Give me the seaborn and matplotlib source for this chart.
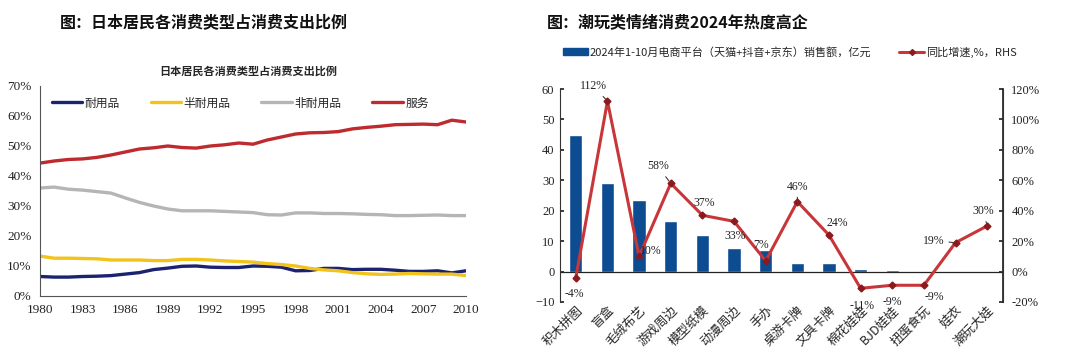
import numpy as np
import pandas as pd
import matplotlib
matplotlib.use("Agg")
import matplotlib.pyplot as plt
from matplotlib.ticker import PercentFormatter, FuncFormatter
from matplotlib.lines import Line2D
from matplotlib.patches import Patch
import seaborn as sns

# ---------------- data: left panel ----------------
years = list(range(1980, 2011))
series_names = ["耐用品", "半耐用品", "非耐用品", "服务"]
durable = [6.5, 6.3, 6.3, 6.5, 6.6, 6.8, 7.3, 7.8, 8.8, 9.3, 9.9, 10.0, 9.6, 9.5, 9.5, 10.0,
           9.9, 9.6, 8.4, 8.5, 9.2, 9.2, 8.8, 8.9, 8.9, 8.6, 8.2, 8.2, 8.4, 7.7, 8.4]
semi_durable = [13.3, 12.6, 12.6, 12.5, 12.4, 12.0, 12.0, 12.0, 11.8, 11.8, 12.2, 12.2, 12.0, 11.7,
                11.5, 11.3, 10.8, 10.5, 10.0, 9.2, 8.7, 8.4, 7.8, 7.4, 7.2, 7.3, 7.5, 7.4, 7.3, 7.3, 6.8]
non_durable = [36.0, 36.3, 35.6, 35.3, 34.8, 34.3, 32.7, 31.2, 30.0, 29.0, 28.4, 28.4, 28.4, 28.2,
               28.0, 27.8, 27.1, 27.0, 27.7, 27.7, 27.5, 27.5, 27.4, 27.2, 27.1, 26.8, 26.8, 26.9,
               27.0, 26.8, 26.8]
services = [44.3, 45.0, 45.5, 45.7, 46.2, 47.0, 48.0, 49.0, 49.4, 50.0, 49.5, 49.3, 50.0, 50.4,
            51.0, 50.6, 52.0, 53.0, 54.0, 54.4, 54.5, 54.8, 55.7, 56.2, 56.6, 57.1, 57.2, 57.3,
            57.1, 58.6, 58.0]
left_xticks = list(range(1980, 2011, 3))

# ---------------- data: right panel ----------------
categories = ["积木拼图", "盲盒", "毛绒布艺", "游戏周边", "模型纸模", "动漫周边", "手办",
              "桌游卡牌", "文具卡牌", "棉花娃娃", "BJD娃娃", "扭蛋食玩", "娃衣", "潮玩大娃"]
sales = [45.0, 29.0, 23.5, 16.5, 12.0, 7.6, 7.0, 2.7, 2.7, 1.0, 0.5, 0.2, 0.1, 0.1]
growth = [-4, 112, 10, 58, 37, 33, 7, 46, 24, -11, -9, -9, 19, 30]

# ---------------- style ----------------
sns.set_theme(style="white")
plt.rcParams['font.family'] = ['Noto Sans CJK SC', 'DejaVu Sans']
serif = ['Liberation Serif', 'DejaVu Serif']

colors = {"耐用品": "#1B2370", "半耐用品": "#F2C31B", "非耐用品": "#B5B5B5", "服务": "#BF2A2E"}
bar_color = "#0E4C92"
line_color = "#C8363A"

fig = plt.figure(figsize=(10.8, 3.6), dpi=100)

# ================= Left panel =================
axL = fig.add_axes([40/1080, 1 - 296/360, 426/1080, 210/360])
df = pd.DataFrame({"year": years * 4,
                   "value": durable + semi_durable + non_durable + services,
                   "series": sum([[n] * len(years) for n in series_names], [])})
sns.lineplot(data=df, x="year", y="value", hue="series", hue_order=series_names,
             palette=colors, linewidth=2.4, ax=axL, legend=False)
axL.set_xlim(1980, 2010)
axL.set_ylim(0, 70)
axL.set_yticks(range(0, 71, 10))
axL.yaxis.set_major_formatter(FuncFormatter(lambda v, p: f"{int(v)}%"))
axL.set_xticks(left_xticks)
axL.set_xlabel("")
axL.set_ylabel("")
for s in ["top", "right"]:
    axL.spines[s].set_visible(False)
for s in ["left", "bottom"]:
    axL.spines[s].set_color("#555555")
    axL.spines[s].set_linewidth(0.8)
axL.tick_params(axis="both", direction="in", length=3, color="#555555", labelsize=9.5,
                labelcolor="#222222", pad=6)
for lab in axL.get_xticklabels() + axL.get_yticklabels():
    lab.set_family(serif)
handlesL = [Line2D([], [], color=colors[n], lw=2.4) for n in series_names]
axL.legend(handlesL, series_names, loc="upper center", bbox_to_anchor=(0.47, 1.0), ncol=4,
           frameon=False, fontsize=8.5, handlelength=2.6, handletextpad=0.2, columnspacing=2.6)
axL.set_title("日本居民各消费类型占消费支出比例", fontsize=8, fontweight="bold", pad=8,
              x=0.49)
fig.text(60/1080, 1 - 22/360, "图：日本居民各消费类型占消费支出比例", fontsize=11.5,
         fontweight="bold", va="center", ha="left", color="#111111")

# ================= Right panel =================
axR = fig.add_axes([560/1080, 1 - 302/360, 443/1080, 213/360])
dfR = pd.DataFrame({"cat": categories, "sales": sales, "growth": growth})
sns.barplot(data=dfR, x="cat", y="sales", order=categories, color=bar_color, width=0.42,
            saturation=1, ax=axR)
axR.set_xlim(-0.5, len(categories) - 0.5)
axR.set_ylim(-10, 60)
axR.set_yticks(range(-10, 61, 10))
axR.axhline(0, color="#222222", lw=0.9, zorder=1)
axR.set_xlabel("")
axR.set_ylabel("")
for s in ["top", "bottom"]:
    axR.spines[s].set_visible(False)
axR.spines["left"].set_color("#333333")
axR.spines["left"].set_linewidth(0.8)
axR.tick_params(axis="y", direction="in", length=3, labelsize=9, labelcolor="#222222", pad=4)
axR.tick_params(axis="x", length=0, labelsize=9, pad=1)
for lab in axR.get_yticklabels():
    lab.set_family(serif)
axR.set_xticks(range(len(categories)))
axR.set_xticklabels(categories, rotation=45, ha="right", rotation_mode="anchor")

ax2 = axR.twinx()
sns.pointplot(data=dfR, x="cat", y="growth", order=categories, color=line_color,
              markers="D", scale=0.5, ax=ax2, errorbar=None)
for ln in ax2.lines:
    ln.set_linewidth(2.2)
    ln.set_markersize(3.5)
    ln.set_markerfacecolor("#8B1A1E")
    ln.set_markeredgecolor("#8B1A1E")
ax2.set_xlim(-0.5, len(categories) - 0.5)
ax2.set_ylim(-20, 120)
ax2.set_yticks(range(-20, 121, 20))
ax2.yaxis.set_major_formatter(FuncFormatter(lambda v, p: f"{int(v)}%"))
ax2.set_ylabel("")
ax2.set_xlabel("")
for s in ["top", "bottom", "left"]:
    ax2.spines[s].set_visible(False)
ax2.spines["right"].set_visible(True)
ax2.spines["right"].set_color("#333333")
ax2.spines["right"].set_linewidth(0.8)
ax2.tick_params(axis="y", direction="in", length=3, labelsize=9, labelcolor="#222222", pad=6)
for lab in ax2.get_yticklabels():
    lab.set_family(serif)

# label offsets in pixels (dx, dy) and whether a leader line is drawn
offsets = [(-2, -16, False), (-14, 15, True), (12, 5, False), (-13, 17, True),
           (2, 12, False), (1, -15, False), (-5, 16, False), (0, 15, True),
           (8, 12, False), (1, -18, False), (0, -17, False), (10, -12, False),
           (-22, 2, True), (-4, 15, True)]
pt = 72 / 100
for i, (g, (dx, dy, lead)) in enumerate(zip(growth, offsets)):
    kw = dict(arrowprops=dict(arrowstyle="-", color="#222222", lw=0.7, shrinkA=1, shrinkB=2)) if lead else {}
    ax2.annotate(f"{g}%", xy=(i, g), xytext=(dx * pt, dy * pt), textcoords="offset points",
                 ha="center", va="center", fontsize=8.5, family=serif, color="#222222", **kw)

handlesR = [Patch(color=bar_color),
            Line2D([], [], color=line_color, lw=2.2, marker="D", markersize=3,
                   markerfacecolor="#8B1A1E", markeredgecolor="#8B1A1E")]
fig.legend(handlesR, ["2024年1-10月电商平台（天猫+抖音+京东）销售额，亿元", "同比增速,%，RHS"],
           loc="center", bbox_to_anchor=(790/1080, 1 - 52/360), ncol=2, frameon=False,
           fontsize=8, handlelength=2.2, handleheight=0.5, handletextpad=0.2, columnspacing=2.5)
fig.text(547/1080, 1 - 22/360, "图：潮玩类情绪消费2024年热度高企", fontsize=11.5,
         fontweight="bold", va="center", ha="left", color="#111111")

fig.savefig("out.png", dpi=100, facecolor="white")
